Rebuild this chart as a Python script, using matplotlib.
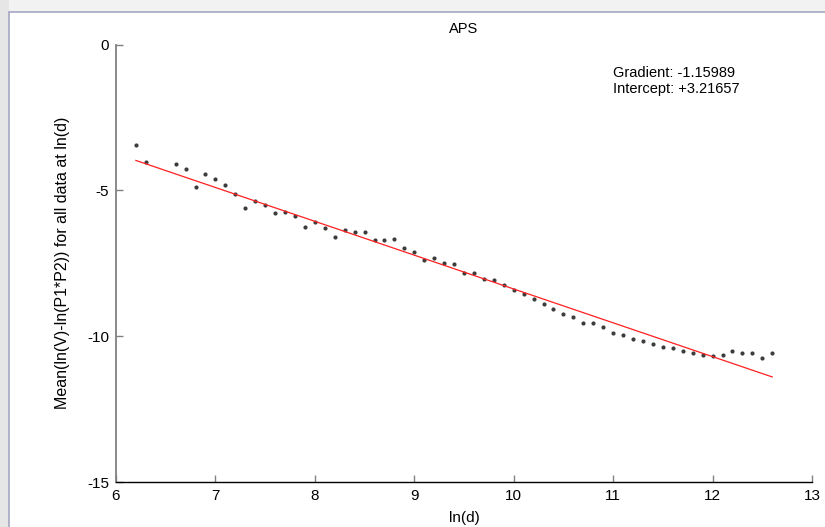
import numpy as np
import matplotlib.pyplot as plt
from matplotlib.patches import Rectangle

# mean values, one per 0.1 step of ln(d)
ln_d = [6.2, 6.3, 6.6, 6.7, 6.8, 6.9, 7.0, 7.1, 7.2, 7.3, 7.4, 7.5, 7.6, 7.7,
        7.8, 7.9, 8.0, 8.1, 8.2, 8.3, 8.4, 8.5, 8.6, 8.7, 8.8, 8.9, 9.0, 9.1,
        9.2, 9.3, 9.4, 9.5, 9.6, 9.7, 9.8, 9.9, 10.0, 10.1, 10.2, 10.3, 10.4,
        10.5, 10.6, 10.7, 10.8, 10.9, 11.0, 11.1, 11.2, 11.3, 11.4, 11.5, 11.6,
        11.7, 11.8, 11.9, 12.0, 12.1, 12.2, 12.3, 12.4, 12.5, 12.6]
mean_val = [-3.43, -4.02, -4.09, -4.27, -4.90, -4.45, -4.62, -4.83, -5.14,
            -5.59, -5.37, -5.51, -5.79, -5.75, -5.89, -6.25, -6.09, -6.30,
            -6.61, -6.37, -6.43, -6.44, -6.69, -6.69, -6.68, -6.99, -7.10,
            -7.39, -7.32, -7.49, -7.54, -7.82, -7.85, -8.03, -8.08, -8.26,
            -8.40, -8.54, -8.71, -8.88, -9.07, -9.25, -9.34, -9.55, -9.55,
            -9.70, -9.90, -9.95, -10.09, -10.15, -10.26, -10.37, -10.39,
            -10.51, -10.59, -10.64, -10.69, -10.65, -10.51, -10.58, -10.58,
            -10.76, -10.58]

gradient = -1.15989
intercept = 3.21657

x_ticks = [6, 7, 8, 9, 10, 11, 12, 13]
y_ticks = [0, -5, -10, -15]

plt.rcParams['font.family'] = ['Liberation Sans', 'DejaVu Sans']
plt.rcParams['axes.unicode_minus'] = False

fig = plt.figure(figsize=(8.25, 5.27), dpi=100, facecolor='#f2f2f2')

# window panel behind the plot
fig.patches.append(Rectangle((0, 0), 9 / 825, 1, transform=fig.transFigure,
                             facecolor='#e6e6e6', edgecolor='none', zorder=-10))
fig.patches.append(Rectangle((9 / 825, -0.01), 1, (527 - 12) / 527 + 0.01,
                             transform=fig.transFigure, facecolor='white',
                             edgecolor='#a6a6c4', linewidth=1.2, zorder=-10))

ax = fig.add_axes([116 / 825, 45 / 527, 696 / 825, 437.5 / 527])
ax.set_facecolor('none')

x = np.array(ln_d)
ax.plot(x, mean_val, 'o', color='#3c3c3c', markersize=3, markeredgewidth=0)

fit_x = np.array([x[0], x[-1]])
ax.plot(fit_x, gradient * fit_x + intercept, color='#ff2020', linewidth=0.9)

ax.set_xlim(6, 13)
ax.set_ylim(-15, 0)
ax.set_xticks(x_ticks)
ax.set_yticks(y_ticks)

for side in ['top', 'right']:
    ax.spines[side].set_visible(False)
ax.spines['left'].set_color('#808080')
ax.spines['left'].set_linewidth(1.3)
ax.spines['bottom'].set_color('black')
ax.spines['bottom'].set_linewidth(1.0)

ax.tick_params(direction='in', length=5, width=1, color='#808080',
               labelsize=11)
ax.tick_params(axis='x', pad=5)
ax.tick_params(axis='y', pad=5)

ax.set_title('APS', fontsize=10.5, pad=8)
ax.set_xlabel('ln(d)', fontsize=11, labelpad=6)
ax.set_ylabel('Mean(ln(V)-ln(P1*P2)) for all data at ln(d)', fontsize=11.5,
              labelpad=12)

ax.text(613, 527 - 77, f'Gradient: {gradient:.5f}', transform=None,
        fontsize=10.5, va='baseline')
ax.text(613, 527 - 93.5, f'Intercept: {intercept:+.5f}', transform=None,
        fontsize=10.5, va='baseline')

fig.savefig('out.png', dpi=100, facecolor=fig.get_facecolor())
